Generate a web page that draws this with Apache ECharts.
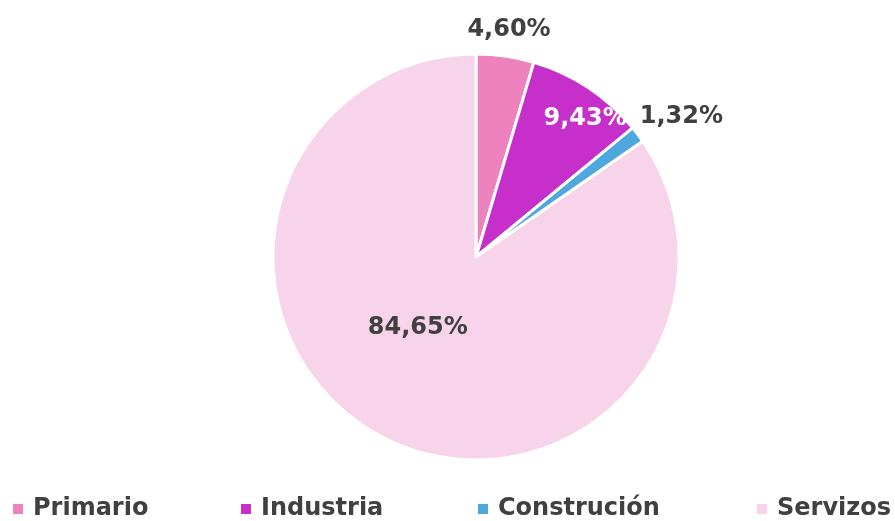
<!DOCTYPE html>
<html>
<head>
    <meta charset="utf-8">
    <title>Sectores</title>
    <script src="https://cdn.jsdelivr.net/npm/echarts@6/dist/echarts.min.js"></script>
    <style>
        html, body { margin: 0; padding: 0; background: #fff; }
        #chart { width: 895px; height: 521px; }
    </style>
</head>
<body>
    <div id="chart"></div>
    <script type="text/javascript">
        var sectores = ['Primario', 'Industria', 'Construción', 'Servizos'];
        var porcentaxes = [4.60, 9.43, 1.32, 84.65];
        var cores = ['#ee82be', '#c62fc9', '#4ea8de', '#f7d4e9'];

        // xeometría da torta
        var cx = 476, cy = 257, raio = 203;
        // distancia da etiqueta ao centro (fracción do raio) e desprazamento angular (graos)
        var etiquetaRaio = [1.13, 0.867, 1.225, 0.45];
        var etiquetaDesvio = [0, 4.8, 2.8, 12];
        var etiquetaCor = ['#404040', '#ffffff', '#404040', '#404040'];

        var fonte = '"DejaVu Sans", sans-serif';
        var chart = echarts.init(document.getElementById('chart'));

        var total = porcentaxes.reduce(function (a, b) { return a + b; }, 0);

        function posEtiqueta(i) {
            var antes = 0;
            for (var k = 0; k < i; k++) antes += porcentaxes[k];
            var ang = (antes + porcentaxes[i] / 2) / total * 360 + etiquetaDesvio[i];
            var rad = ang * Math.PI / 180;
            var r = raio * etiquetaRaio[i];
            return { x: cx + r * Math.sin(rad), y: cy - r * Math.cos(rad) };
        }

        var lendaLeft = [13, 241, 478, 757];
        var lendas = sectores.map(function (s, i) {
            return {
                data: [s],
                left: lendaLeft[i],
                top: 497,
                icon: 'rect',
                itemWidth: 10,
                itemHeight: 10,
                itemGap: 0,
                padding: 0,
                selectedMode: false,
                itemStyle: { borderWidth: 0 },
                textStyle: {
                    fontFamily: fonte,
                    fontWeight: 'bold',
                    fontSize: 24,
                    color: '#404040',
                    padding: [0, 0, 0, 5]
                }
            };
        });

        var option = {
            animation: false,
            color: cores,
            legend: lendas,
            series: [{
                type: 'pie',
                center: [cx, cy],
                radius: [0, raio],
                startAngle: 90,
                clockwise: true,
                avoidLabelOverlap: false,
                itemStyle: { borderColor: '#fff', borderWidth: 3 },
                label: {
                    show: true,
                    position: 'inside',
                    fontFamily: fonte,
                    fontWeight: 'bold',
                    fontSize: 24,
                    formatter: function (p) {
                        return p.value.toFixed(2).replace('.', ',') + '%';
                    }
                },
                labelLine: { show: false },
                labelLayout: function (p) {
                    var pos = posEtiqueta(p.dataIndex);
                    return { x: pos.x, y: pos.y, align: 'center', verticalAlign: 'middle' };
                },
                data: sectores.map(function (s, i) {
                    return {
                        name: s,
                        value: porcentaxes[i],
                        label: { color: etiquetaCor[i] }
                    };
                })
            }]
        };

        chart.setOption(option);
    </script>
</body>
</html>
